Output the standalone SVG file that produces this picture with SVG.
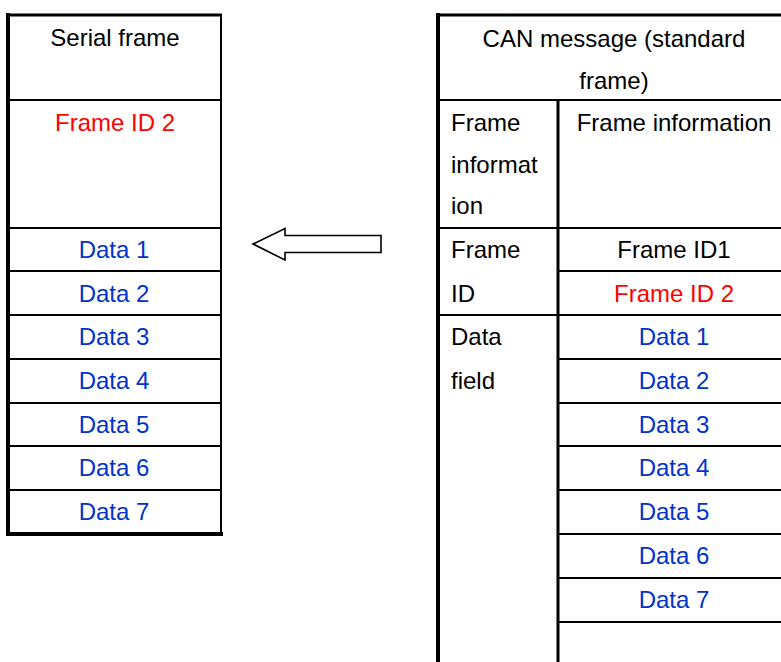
<svg xmlns="http://www.w3.org/2000/svg" width="781" height="662" viewBox="0 0 781 662">
<style>
text{font-family:"Liberation Sans",Arial,sans-serif;font-size:24px;fill:#000}
.c{text-anchor:middle}
.r{fill:#FF0000}
.b{fill:#0033CC}
.ln{stroke:#000;stroke-width:2;fill:none}
.thk{stroke:#000;stroke-width:4;fill:none}
.mid{stroke:#000;stroke-width:3;fill:none}
</style>
<rect width="781" height="662" fill="#fff"/>
<g id="serial-frame">
<line class="ln" x1="8" y1="100" x2="221" y2="100"/>
<line class="ln" x1="8" y1="228" x2="221" y2="228"/>
<line class="ln" x1="8" y1="271" x2="221" y2="271"/>
<line class="ln" x1="8" y1="315" x2="221" y2="315"/>
<line class="ln" x1="8" y1="359" x2="221" y2="359"/>
<line class="ln" x1="8" y1="403" x2="221" y2="403"/>
<line class="ln" x1="8" y1="446" x2="221" y2="446"/>
<line class="ln" x1="8" y1="490" x2="221" y2="490"/>
<line class="ln" x1="221" y1="15" x2="221" y2="534"/>
<line class="mid" x1="6" y1="15" x2="222" y2="15"/>
<line class="thk" x1="8" y1="13" x2="8" y2="536"/>
<line class="thk" x1="6" y1="534" x2="223" y2="534"/>
<text class="c" x="115" y="46">Serial frame</text>
<text class="c r" x="115" y="131">Frame ID 2</text>
<text class="c b" x="114" y="258">Data 1</text>
<text class="c b" x="114" y="302">Data 2</text>
<text class="c b" x="114" y="345">Data 3</text>
<text class="c b" x="114" y="389">Data 4</text>
<text class="c b" x="114" y="433">Data 5</text>
<text class="c b" x="114" y="476">Data 6</text>
<text class="c b" x="114" y="520">Data 7</text>
</g>
<g id="can-message">
<line class="ln" x1="438" y1="100" x2="781" y2="100"/>
<line class="ln" x1="438" y1="228" x2="781" y2="228"/>
<line class="ln" x1="558" y1="271" x2="781" y2="271"/>
<line class="ln" x1="438" y1="315" x2="781" y2="315"/>
<line class="ln" x1="558" y1="359" x2="781" y2="359"/>
<line class="ln" x1="558" y1="403" x2="781" y2="403"/>
<line class="ln" x1="558" y1="446" x2="781" y2="446"/>
<line class="ln" x1="558" y1="490" x2="781" y2="490"/>
<line class="ln" x1="558" y1="534" x2="781" y2="534"/>
<line class="ln" x1="558" y1="578" x2="781" y2="578"/>
<line class="ln" x1="558" y1="622" x2="781" y2="622"/>
<line class="mid" x1="558" y1="100" x2="558" y2="662"/>
<line class="mid" x1="436" y1="15" x2="781" y2="15"/>
<line class="thk" x1="438" y1="13" x2="438" y2="662"/>
<text class="c" x="614" y="47">CAN message (standard</text>
<text class="c" x="614" y="89">frame)</text>
<text x="451" y="131">Frame</text>
<text x="451" y="173">informat</text>
<text x="451" y="214">ion</text>
<text class="c" x="674" y="131">Frame information</text>
<text x="451" y="258">Frame</text>
<text x="451" y="302">ID</text>
<text class="c" x="674" y="258">Frame ID1</text>
<text class="c r" x="674" y="302">Frame ID 2</text>
<text x="451" y="345">Data</text>
<text x="451" y="389">field</text>
<text class="c b" x="674" y="345">Data 1</text>
<text class="c b" x="674" y="389">Data 2</text>
<text class="c b" x="674" y="433">Data 3</text>
<text class="c b" x="674" y="476">Data 4</text>
<text class="c b" x="674" y="520">Data 5</text>
<text class="c b" x="674" y="564">Data 6</text>
<text class="c b" x="674" y="608">Data 7</text>
</g>
<g id="connectors">
<polygon points="253,244 285,228.5 285,235.5 381,235.5 381,252.5 285,252.5 285,260" fill="#fff" stroke="#000" stroke-width="1.6" stroke-linejoin="miter"/>
</g>
</svg>
